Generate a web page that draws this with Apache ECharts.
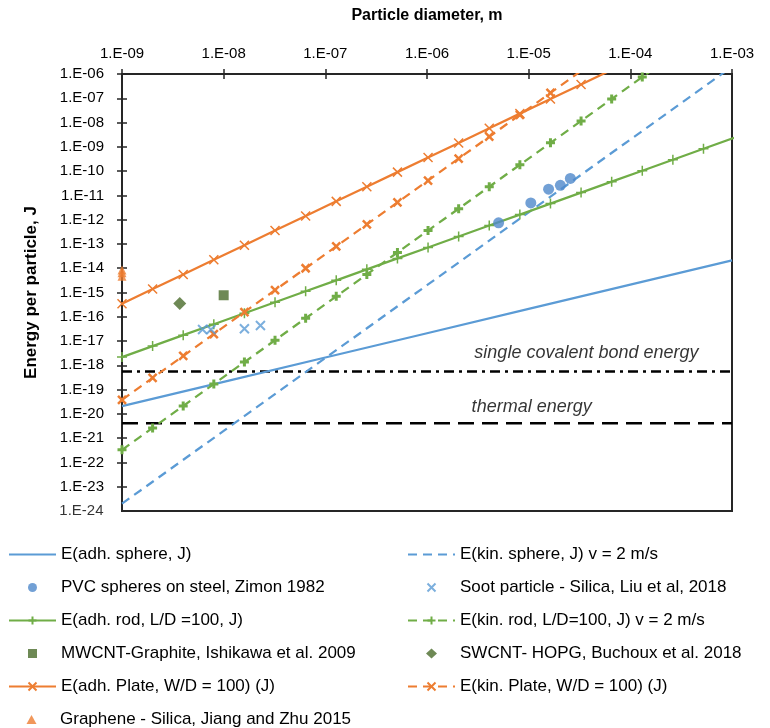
<!DOCTYPE html>
<html>
<head>
<meta charset="utf-8">
<script src="https://cdn.jsdelivr.net/npm/echarts@6/dist/echarts.min.js"></script>
<style>
  html, body { margin: 0; padding: 0; background: #fff; }
  #chart { width: 770px; height: 728px; }
</style>
</head>
<body>
<div id="chart"></div>
<script>
// particle diameter, m (doubling steps from 1 nm)
const diam = [1e-9, 2e-9, 4e-9, 8e-9, 1.6e-8, 3.2e-8, 6.4e-8, 1.28e-7, 2.56e-7, 5.12e-7,
  1.024e-6, 2.048e-6, 4.096e-6, 8.192e-6, 1.6384e-5, 3.2768e-5, 6.5536e-5, 1.31072e-4,
  2.62144e-4, 5.24288e-4, 1.048576e-3];
const decades = [1e-9, 1e-8, 1e-7, 1e-6, 1e-5, 1e-4, 1e-3];

// energy per particle, J
const adhSphere = [2.1e-20, 2.1e-19, 2.1e-18, 2.1e-17, 2.1e-16, 2.1e-15, 2.1e-14];
const kinSphere = [2.0e-24, 2.0e-21, 2.0e-18, 2.0e-15, 2.0e-12, 2.0e-9, 2.0e-6];
const adhRod = [2.19e-18, 6.19e-18, 1.75e-17, 4.95e-17, 1.40e-16, 3.96e-16, 1.12e-15, 3.17e-15,
  8.97e-15, 2.54e-14, 7.17e-14, 2.03e-13, 5.74e-13, 1.62e-12, 4.59e-12, 1.30e-11, 3.67e-11,
  1.04e-10, 2.94e-10, 8.31e-10, 2.35e-9];
const kinRod = [3.31e-22, 2.65e-21, 2.12e-20, 1.69e-19, 1.36e-18, 1.08e-17, 8.68e-17, 6.94e-16,
  5.55e-15, 4.44e-14, 3.55e-13, 2.84e-12, 2.27e-11, 1.82e-10, 1.46e-9, 1.16e-8, 9.31e-8,
  7.45e-7, 5.96e-6];
const adhPlate = [3.47e-16, 1.39e-15, 5.55e-15, 2.22e-14, 8.88e-14, 3.55e-13, 1.42e-12, 5.68e-12,
  2.27e-11, 9.09e-11, 3.64e-10, 1.45e-9, 5.82e-9, 2.33e-8, 9.31e-8, 3.72e-7, 1.49e-6];
const kinPlate = [3.8e-20, 3.04e-19, 2.43e-18, 1.95e-17, 1.56e-16, 1.25e-15, 9.97e-15, 7.97e-14,
  6.38e-13, 5.10e-12, 4.08e-11, 3.27e-10, 2.61e-9, 2.09e-8, 1.67e-7, 1.34e-6];

// measurements
const pvcD = [5.06e-6, 1.05e-5, 1.57e-5, 2.05e-5, 2.57e-5];
const pvcE = [7.4e-13, 4.9e-12, 1.8e-11, 2.6e-11, 5.0e-11];
const sootD = [6.2e-9, 7.5e-9, 1.6e-8, 2.3e-8];
const sootE = [3.0e-17, 3.0e-17, 3.2e-17, 4.4e-17];
const mwcntD = [1.0e-8];
const mwcntE = [7.7e-16];
const swcntD = [3.7e-9];
const swcntE = [3.5e-16];
const grapheneD = [1e-9, 1e-9, 1e-9];
const grapheneE = [8.5e-15, 6.5e-15, 4.7e-15];

// reference energies
const bondEnergy = 5.6e-19;
const thermalEnergy = 4.1e-21;
const xRange = [1e-9, 1e-3];
const yRange = [1e-24, 1e-6];

const names = {
  adhSphere: 'E(adh. sphere, J)',
  kinSphere: 'E(kin. sphere, J) v = 2 m/s',
  pvc: 'PVC spheres on steel, Zimon 1982',
  soot: 'Soot particle - Silica, Liu et al, 2018',
  adhRod: 'E(adh. rod, L/D =100, J)',
  kinRod: 'E(kin. rod, L/D=100, J) v = 2 m/s',
  mwcnt: 'MWCNT-Graphite, Ishikawa et al. 2009',
  swcnt: 'SWCNT- HOPG, Buchoux et al. 2018',
  adhPlate: 'E(adh. Plate, W/D = 100) (J)',
  kinPlate: 'E(kin. Plate, W/D = 100) (J)',
  graphene: 'Graphene - Silica, Jiang and Zhu 2015'
};

const BLUE = '#5B9BD5', DOT = '#4F88CB', ORANGE = '#ED7D31', GREEN = '#70AD47', DKGREEN = '#4A6B2A';
const FONT = 'Liberation Sans';
const CROSS = 'path://M0,0L10,10M10,0L0,10';
const PLUS = 'path://M5,0L5,10M0,5L10,5';

// legend icons in a 47x10 box (the leading moves fix the box so shapes keep their size)
const BOX = 'path://M0,0M47,10';
const legendIcons = {
  pvc: BOX + 'M19,5A4.5,4.5,0,1,0,28,5A4.5,4.5,0,1,0,19,5Z',
  soot: BOX + 'M19.5,1L27.5,9M27.5,1L19.5,9',
  mwcnt: BOX + 'M19,0.5L28,0.5L28,9.5L19,9.5Z',
  swcnt: BOX + 'M23.5,0L29,5L23.5,10L18,5Z',
  graphene: BOX + 'M23.5,0.5L28.5,9.5L18.5,9.5Z'
};

function pairs(xs, ys) {
  return ys.map((y, i) => [xs[i], y]);
}
function sci(v) {
  const e = Math.round(Math.log10(v));
  const a = Math.abs(e);
  return '1.E' + (e < 0 ? '-' : '+') + (a < 10 ? '0' : '') + a;
}

function lineSeries(name, xs, ys, color, dashed, symbol, size, bw) {
  return {
    name: name, type: 'line', data: pairs(xs, ys),
    symbol: symbol || 'none', symbolSize: size || 0,
    lineStyle: { color: color, width: 2.25, type: dashed ? [9, 6] : 'solid' },
    itemStyle: { color: color, borderColor: color, borderWidth: bw || 1.5 },
    z: 3
  };
}
function scatterSeries(name, xs, ys, color, symbol, size, stroke) {
  return {
    name: name, type: 'scatter', data: pairs(xs, ys),
    symbol: symbol, symbolSize: size,
    itemStyle: stroke
      ? { color: color, borderColor: color, borderWidth: 2 }
      : { color: color },
    z: 4
  };
}
function refLine(value, dash, width) {
  return {
    type: 'line', silent: true, symbol: 'none',
    data: [[xRange[0], value], [xRange[1], value]],
    lineStyle: { color: '#000', width: width, type: dash }, z: 2
  };
}

const notes = [
  { value: [3.7e-5, 3.2e-18], text: 'single covalent bond energy' },
  { value: [1.07e-5, 2.0e-20], text: 'thermal energy' }
];

const AXIS_COLOR = '#262626';
const tickStyle = { color: AXIS_COLOR, width: 1.5 };
const tickLabel = { fontFamily: FONT, fontSize: 15, color: '#000' };
const axisBase = {
  type: 'log', logBase: 10,
  axisLine: { show: true, onZero: false, lineStyle: { color: AXIS_COLOR, width: 2 } },
  axisTick: { show: true, length: 5, lineStyle: tickStyle },
  splitLine: { show: false },
  minorTick: { show: false }
};
// axes on an overlaid empty grid that only draw the inner half of the crossing ticks
const innerTicks = {
  type: 'log', logBase: 10, gridIndex: 1,
  axisLine: { show: false, onZero: false },
  axisTick: { show: true, inside: true, length: 5, lineStyle: tickStyle },
  axisLabel: { show: false },
  splitLine: { show: false },
  minorTick: { show: false }
};
const plotRect = { left: 122, right: 38, top: 74, bottom: 217, outerBoundsMode: 'none', containLabel: false };
const nameStyle = { fontFamily: FONT, fontSize: 16, fontWeight: 'bold', color: '#000' };
const legendText = { fontFamily: FONT, fontSize: 17, color: '#000' };
const noMark = { color: 'rgba(0,0,0,0)', borderWidth: 0, opacity: 0 };

function legendCol(left, top, items) {
  return {
    orient: 'vertical', left: left, top: top, itemWidth: 47, itemHeight: 10, itemGap: 16,
    textStyle: legendText, data: items
  };
}

const chart = echarts.init(document.getElementById('chart'));
chart.setOption({
  animation: false,
  backgroundColor: '#fff',
  textStyle: { fontFamily: FONT, color: '#000' },
  grid: [
    Object.assign({ show: true, borderColor: AXIS_COLOR, borderWidth: 2 }, plotRect),
    Object.assign({ show: false }, plotRect)
  ],
  xAxis: [
    Object.assign({}, axisBase, {
      position: 'top', min: xRange[0], max: xRange[1],
      name: 'Particle diameter, m', nameLocation: 'middle', nameGap: 50,
      nameTextStyle: nameStyle,
      axisLabel: Object.assign({ formatter: sci, margin: 13, showMinLabel: true, showMaxLabel: true }, tickLabel)
    }),
    Object.assign({}, innerTicks, { position: 'top', min: xRange[0], max: xRange[1] })
  ],
  yAxis: [
    Object.assign({}, axisBase, {
      position: 'left', min: yRange[0], max: yRange[1], interval: 1,
      name: 'Energy per particle, J', nameLocation: 'middle', nameGap: 82, nameRotate: 90,
      nameMoveOverlap: false,
      nameTextStyle: Object.assign({}, nameStyle, { fontSize: 17 }),
      axisLabel: Object.assign({ formatter: sci, margin: 18, showMinLabel: true, showMaxLabel: true,
        hideOverlap: false }, tickLabel)
    }),
    Object.assign({}, innerTicks, { position: 'left', min: yRange[0], max: yRange[1], interval: 1 })
  ],
  legend: [
    legendCol(3, 541, [
      { name: names.adhSphere, itemStyle: noMark },
      { name: names.pvc, icon: legendIcons.pvc },
      names.adhRod,
      { name: names.mwcnt, icon: legendIcons.mwcnt },
      names.adhPlate
    ]),
    legendCol(3, 706, [{ name: names.graphene, icon: legendIcons.graphene }]),
    legendCol(402, 541, [
      { name: names.kinSphere, itemStyle: noMark },
      { name: names.soot, icon: legendIcons.soot },
      names.kinRod,
      { name: names.swcnt, icon: legendIcons.swcnt },
      names.kinPlate
    ])
  ],
  series: [
    refLine(bondEnergy, [10, 5, 3, 5], 2.5),
    refLine(thermalEnergy, [16, 8], 2.5),
    {
      type: 'scatter', silent: true, symbol: 'circle', symbolSize: 1,
      itemStyle: { color: 'rgba(0,0,0,0)' },
      data: notes.map(n => ({ value: n.value, name: n.text })),
      label: {
        show: true, position: 'inside', formatter: p => p.name,
        fontFamily: FONT, fontSize: 18, fontStyle: 'italic', color: '#000'
      }
    },
    {
      // the log axis drops its lowest label, so put it back at the bottom corner
      type: 'scatter', silent: true, symbol: 'circle', symbolSize: 1,
      itemStyle: { color: 'rgba(0,0,0,0)' },
      data: [[xRange[0], yRange[0]]],
      label: Object.assign({ show: true, position: 'left', distance: 18,
        formatter: p => sci(p.value[1]) }, tickLabel)
    },
    lineSeries(names.adhSphere, decades, adhSphere, BLUE, false),
    lineSeries(names.kinSphere, decades, kinSphere, BLUE, true),
    lineSeries(names.adhRod, diam, adhRod, GREEN, false, PLUS, 10, 1.5),
    lineSeries(names.kinRod, diam, kinRod, GREEN, true, PLUS, 9, 3),
    lineSeries(names.adhPlate, diam, adhPlate, ORANGE, false, CROSS, 9, 1.5),
    lineSeries(names.kinPlate, diam, kinPlate, ORANGE, true, CROSS, 8, 2.5),
    scatterSeries(names.pvc, pvcD, pvcE, DOT, 'circle', 11),
    scatterSeries(names.soot, sootD, sootE, BLUE, CROSS, 9, true),
    scatterSeries(names.mwcnt, mwcntD, mwcntE, DKGREEN, 'rect', 10),
    scatterSeries(names.swcnt, swcntD, swcntE, DKGREEN, 'diamond', 13),
    scatterSeries(names.graphene, grapheneD, grapheneE, ORANGE, 'triangle', 9)
  ]
});
</script>
</body>
</html>
